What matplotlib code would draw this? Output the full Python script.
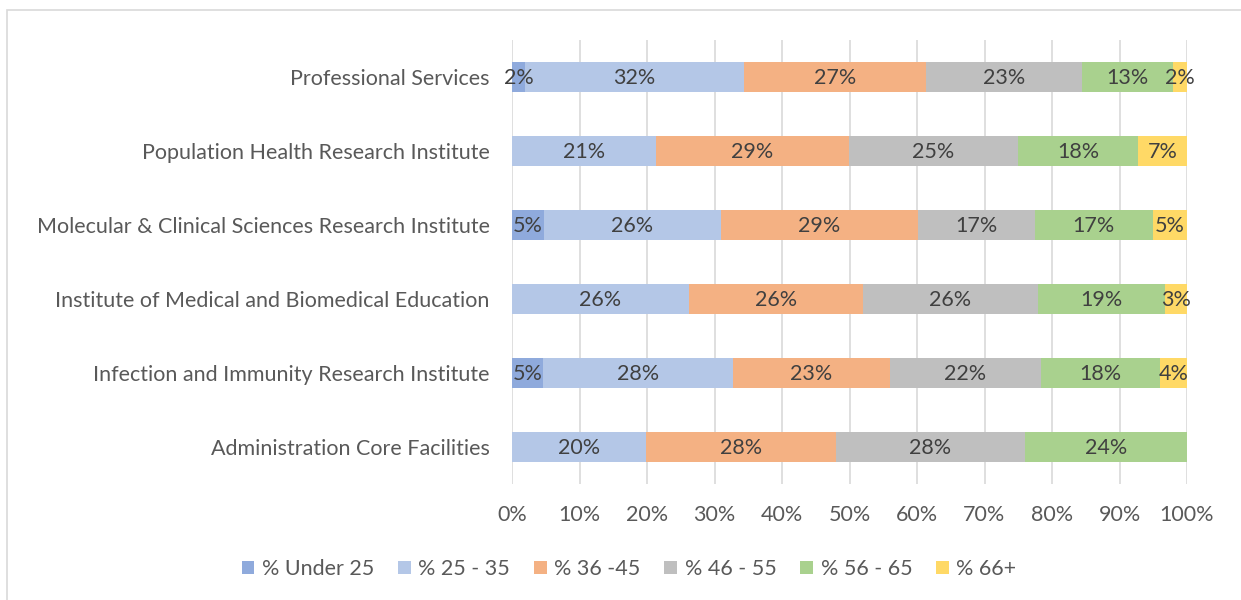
import numpy as np
import matplotlib.pyplot as plt
from matplotlib.patches import Rectangle

# data (bottom to top)
categories = ["Administration Core Facilities",
              "Infection and Immunity Research Institute",
              "Institute of Medical and Biomedical Education",
              "Molecular & Clinical Sciences Research Institute",
              "Population Health Research Institute",
              "Professional Services"]
series = ["% Under 25", "% 25 - 35", "% 36 -45", "% 46 - 55", "% 56 - 65", "% 66+"]

under_25 = [0.0, 4.6, 0.0, 4.7, 0.0, 1.9]
age_25_35 = [19.9, 28.1, 26.2, 26.3, 21.3, 32.4]
age_36_45 = [28.1, 23.3, 25.8, 29.1, 28.6, 27.0]
age_46_55 = [28.0, 22.3, 25.9, 17.4, 25.1, 23.2]
age_56_65 = [24.0, 17.7, 18.8, 17.4, 17.8, 13.4]
age_66_plus = [0.0, 4.0, 3.3, 5.1, 7.2, 2.1]

colors = ["#8FAADC", "#B4C7E7", "#F4B183", "#BFBFBF", "#A9D18E", "#FFD966"]
text_col = "#404040"
tick_col = "#595959"
fs = 15.5

plt.rcParams['font.family'] = ['Lato', 'DejaVu Sans']

fig = plt.figure(figsize=(12.41, 6), dpi=100)
ax = fig.add_axes([512/1241, 1 - 484/600, 675/1241, 444/600])

# chart frame
fig.patches.append(Rectangle((7/1241, -0.1), 1.2, 1 - 10/600 + 0.1, transform=fig.transFigure,
                             fill=False, edgecolor="#D9D9D9", linewidth=1.2))

y = np.arange(len(categories))
left = np.zeros(len(categories))
all_vals = [under_25, age_25_35, age_36_45, age_46_55, age_56_65, age_66_plus]
for name, vals, c in zip(series, all_vals, colors):
    vals = np.array(vals)
    ax.barh(y, vals, left=left, height=0.41, color=c, label=name, zorder=3)
    for yi, l, v in zip(y, left, vals):
        if v > 0:
            ax.text(l + v / 2, yi - 0.02, "{:.0f}%".format(v), ha="center", va="center",
                    fontsize=fs, color=text_col, zorder=4)
    left += vals

ax.set_xlim(0, 100)
ax.set_ylim(-0.5, 5.5)
ax.set_xticks(np.arange(0, 101, 10))
ax.set_xticklabels(["{}%".format(t) for t in range(0, 101, 10)])
ax.set_yticks(y)
ax.set_yticklabels(categories)
ax.tick_params(axis="both", length=0, labelsize=fs, colors=tick_col)
ax.tick_params(axis="x", pad=15)
ax.tick_params(axis="y", pad=16)
ax.grid(axis="x", color="#D9D9D9", linewidth=1.2, zorder=0)
for s in ax.spines.values():
    s.set_visible(False)

leg = fig.legend(loc="center", bbox_to_anchor=(629/1241, 1 - 569/600), ncol=6, frameon=False,
                 fontsize=fs, handlelength=0.6, handleheight=0.6, handletextpad=0.35,
                 columnspacing=1.1)
for t in leg.get_texts():
    t.set_color(tick_col)

fig.savefig("out.png", dpi=100)
